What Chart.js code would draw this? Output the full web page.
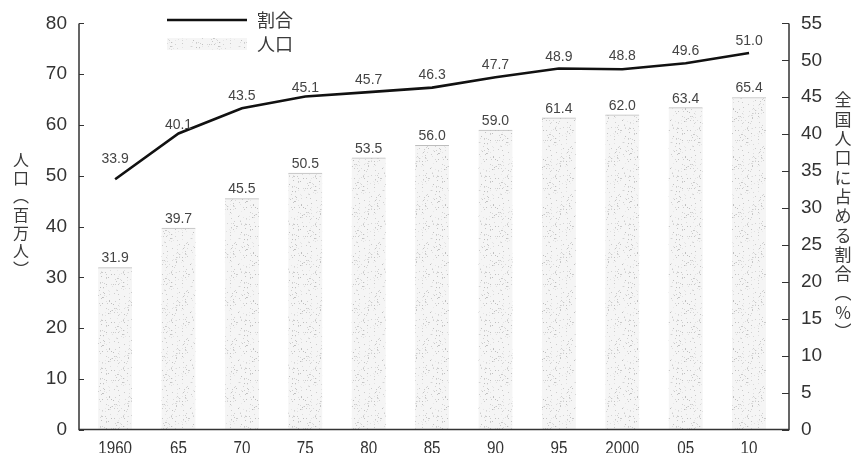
<!DOCTYPE html>
<html>
<head>
<meta charset="utf-8">
<script src="https://cdn.jsdelivr.net/npm/chart.js@4/dist/chart.umd.min.js"></script>
<style>
  html, body { margin: 0; padding: 0; background: #fff; }
  #wrap { width: 859px; height: 453px; }
</style>
</head>
<body>
<div id="wrap"><canvas id="chart" width="859" height="453"></canvas></div>
<script>
// 年次
const years = ['1960', '65', '70', '75', '80', '85', '90', '95', '2000', '05', '10'];
// 人口（百万人）
const population = [31.9, 39.7, 45.5, 50.5, 53.5, 56.0, 59.0, 61.4, 62.0, 63.4, 65.4];
// 全国人口に占める割合（%）
const share = [33.9, 40.1, 43.5, 45.1, 45.7, 46.3, 47.7, 48.9, 48.8, 49.6, 51.0];
// 軸の目盛
const popTicks = { min: 0, max: 80, step: 10 };
const shareTicks = { min: 0, max: 55, step: 5 };

// 折れ線ラベルの持ち上げ量 (px)
const shareLabelLift = [20, 8, 12, 8, 12, 13, 12, 11, 13, 12, 12];

const NUM_FONT = "'Liberation Sans', Arial, sans-serif";
const CJK_FONT = "'Noto Sans CJK JP', 'Noto Sans', sans-serif";
const AXIS_COLOR = '#333';

// 棒の砂目模様
function makeGrain() {
  const c = document.createElement('canvas');
  c.width = 48; c.height = 48;
  const g = c.getContext('2d');
  g.fillStyle = '#f5f5f5';
  g.fillRect(0, 0, 48, 48);
  let s = 12345;
  const rnd = () => { s = (s * 1103515245 + 12345) & 0x7fffffff; return s / 0x7fffffff; };
  for (let i = 0; i < 200; i++) {
    const v = Math.floor(190 + rnd() * 45);
    g.fillStyle = `rgb(${v},${v},${v})`;
    g.fillRect(Math.floor(rnd() * 48), Math.floor(rnd() * 48), 1, 1);
  }
  return c;
}
const ctx = document.getElementById('chart').getContext('2d');
const grain = ctx.createPattern(makeGrain(), 'repeat');

const drawExtras = {
  id: 'drawExtras',
  afterDraw(chart) {
    const c = chart.ctx;
    const area = chart.chartArea;
    c.save();

    // 軸線と内向きの目盛線
    c.strokeStyle = AXIS_COLOR;
    c.lineWidth = 1.5;
    c.beginPath();
    c.moveTo(area.left, area.top);
    c.lineTo(area.left, area.bottom);
    c.lineTo(area.right, area.bottom);
    c.lineTo(area.right, area.top);
    c.stroke();
    c.lineWidth = 1;
    const yL = chart.scales.yPop, yR = chart.scales.yShare;
    yL.ticks.forEach(t => {
      const y = Math.round(yL.getPixelForValue(t.value)) + 0.5;
      c.beginPath(); c.moveTo(area.left, y); c.lineTo(area.left + 5, y); c.stroke();
    });
    yR.ticks.forEach(t => {
      const y = Math.round(yR.getPixelForValue(t.value)) + 0.5;
      c.beginPath(); c.moveTo(area.right - 7, y); c.lineTo(area.right, y); c.stroke();
    });

    // 横軸の年次ラベル（縦長の字形）
    const xs = chart.scales.x;
    c.fillStyle = '#333';
    c.font = '19px ' + NUM_FONT;
    c.textAlign = 'center';
    c.textBaseline = 'alphabetic';
    years.forEach((label, i) => {
      c.save();
      c.translate(xs.getPixelForValue(i), 454);
      c.scale(0.8, 1);
      c.fillText(label, 0, 0);
      c.restore();
    });

    // 値ラベル
    c.fillStyle = '#444';
    c.font = '14px ' + NUM_FONT;
    const barMeta = chart.getDatasetMeta(0);
    c.textBaseline = 'bottom';
    barMeta.data.forEach((el, i) => {
      c.fillText(population[i].toFixed(1), el.x, el.y - 2);
    });
    const lineMeta = chart.getDatasetMeta(1);
    c.textBaseline = 'middle';
    lineMeta.data.forEach((el, i) => {
      c.fillText(share[i].toFixed(1), el.x, el.y - shareLabelLift[i]);
    });

    // 凡例
    c.strokeStyle = '#111';
    c.lineWidth = 2.6;
    c.beginPath(); c.moveTo(167, 20); c.lineTo(247, 20); c.stroke();
    c.fillStyle = grain;
    c.fillRect(167, 38, 80, 12);
    c.fillStyle = '#3a3a3a';
    c.font = '18px ' + CJK_FONT;
    c.textAlign = 'left';
    c.fillText('割合', 257, 20);
    c.fillText('人口', 257, 44);

    // 縦書きの軸タイトル
    c.textAlign = 'center';
    c.font = '16px ' + CJK_FONT;
    const leftTitle = ['人', '口', '︵', '百', '万', '人', '︶'];
    leftTitle.forEach((ch, i) => c.fillText(ch, 21, 160 + i * 18.2));
    c.font = '17px ' + CJK_FONT;
    const rightTitle = ['全', '国', '人', '口', 'に', '占', 'め', 'る', '割', '合', '︵', '%', '︶'];
    rightTitle.forEach((ch, i) => c.fillText(ch, 843, 100 + i * 19.3));

    c.restore();
  }
};

new Chart(ctx, {
  data: {
    datasets: [{
      type: 'bar',
      label: '人口',
      data: population.map((v, i) => ({ x: i, y: v })),
      yAxisID: 'yPop',
      backgroundColor: grain,
      borderColor: '#bdbdbd',
      borderWidth: { top: 1, left: 0, right: 0, bottom: 0 },
      borderSkipped: false,
      barThickness: 34,
      order: 2
    }, {
      type: 'line',
      label: '割合',
      data: share.map((v, i) => ({ x: i, y: v })),
      yAxisID: 'yShare',
      borderColor: '#111',
      borderWidth: 2.6,
      pointRadius: 0,
      tension: 0,
      order: 1
    }]
  },
  options: {
    responsive: false,
    animation: false,
    layout: { padding: { top: 21, left: 0, right: 0, bottom: 0 } },
    plugins: { legend: { display: false }, tooltip: { enabled: false } },
    scales: {
      x: {
        type: 'linear',
        offset: false,
        min: -0.57,
        max: 10.63,
        afterFit: s => { s.height = 21; },
        grid: { display: false, drawTicks: false },
        border: { display: false },
        ticks: { display: false, stepSize: 1 }
      },
      yPop: {
        position: 'left',
        min: popTicks.min,
        max: popTicks.max,
        afterFit: s => { s.width = 79; },
        grid: { display: false, drawTicks: false },
        border: { display: false },
        ticks: {
          stepSize: popTicks.step,
          padding: 12,
          color: '#333',
          font: { family: NUM_FONT, size: 19 }
        }
      },
      yShare: {
        position: 'right',
        min: shareTicks.min,
        max: shareTicks.max,
        afterFit: s => { s.width = 70; },
        grid: { display: false, drawTicks: false },
        border: { display: false },
        ticks: {
          stepSize: shareTicks.step,
          padding: 12,
          color: '#333',
          font: { family: NUM_FONT, size: 19 }
        }
      }
    }
  },
  plugins: [drawExtras]
});
</script>
</body>
</html>
